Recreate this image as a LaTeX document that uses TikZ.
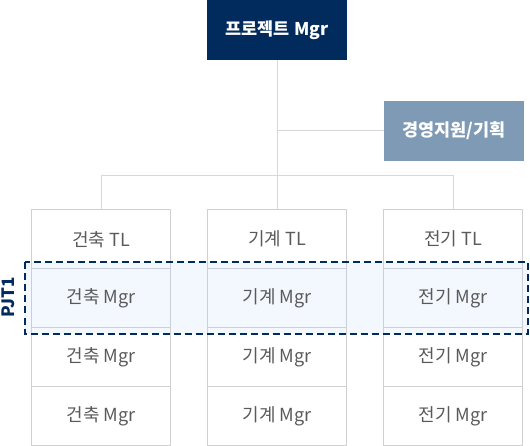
\documentclass[tikz,border=0pt]{standalone}
\usepackage{fontspec}
\setmainfont{Noto Sans CJK KR}
\definecolor{navy}{HTML}{002B5C}
\definecolor{slate}{HTML}{7F9AB5}
\definecolor{cellline}{HTML}{D0D0D0}
\definecolor{conn}{HTML}{D8D8D8}
\definecolor{txt}{HTML}{5A5A5A}
\definecolor{hl}{HTML}{F3F7FE}
\definecolor{hlline}{HTML}{C9CFDA}
\tikzset{
  head/.style={minimum width=140pt, minimum height=60pt, inner sep=0pt, text=white, font=\fontsize{17.5}{20}\selectfont\bfseries},
  cell/.style={draw=cellline, line width=1pt, minimum width=139pt, minimum height=59pt, inner sep=0pt, text=txt, font=\fontsize{18}{20}\selectfont},
  hlcell/.style={cell, draw=hlline, fill=hl},
  connector/.style={draw=conn, line width=1pt},
}
\begin{document}
\begin{tikzpicture}[x=1pt, y=-1pt]
\useasboundingbox (0,0) rectangle (530,446);
% highlight band
\fill[hl] (24.5,262.5) rectangle (528,333.5);
% heads
\node[head, fill=navy] (pm) at (277,30) {프로젝트 Mgr};
\node[head, fill=slate] (ms) at (454,131) {경영지원/기획};
% columns
\node[cell] (a1) at (101,239.25) {건축 TL};
\node[hlcell] (a2) at (101,298) {건축 Mgr};
\node[cell] (a3) at (101,357.25) {건축 Mgr};
\node[cell] (a4) at (101,416.25) {건축 Mgr};
\node[cell] (b1) at (277,239.25) {기계 TL};
\node[hlcell] (b2) at (277,298) {기계 Mgr};
\node[cell] (b3) at (277,357.25) {기계 Mgr};
\node[cell] (b4) at (277,416.25) {기계 Mgr};
\node[cell] (c1) at (453,239.25) {전기 TL};
\node[hlcell] (c2) at (453,298) {전기 Mgr};
\node[cell] (c3) at (453,357.25) {전기 Mgr};
\node[cell] (c4) at (453,416.25) {전기 Mgr};
% connectors
\coordinate (bus) at (277,176);
\draw[connector] (pm.south) -- (b1.north);
\draw[connector] (pm.south |- ms.west) -- (ms.west);
\draw[connector] (a1.north) -- (a1.north |- bus) -- (c1.north |- bus) -- (c1.north);
% dashed group
\draw[navy, line width=2pt, dash pattern=on 7pt off 4pt] (24.5,262.5) rectangle (528,333.5);
\node[rotate=90, text=navy, inner sep=0pt, font=\fontsize{17}{19}\selectfont\bfseries] (pjt) at (8.5,297) {PJT1};
\end{tikzpicture}
\end{document}
